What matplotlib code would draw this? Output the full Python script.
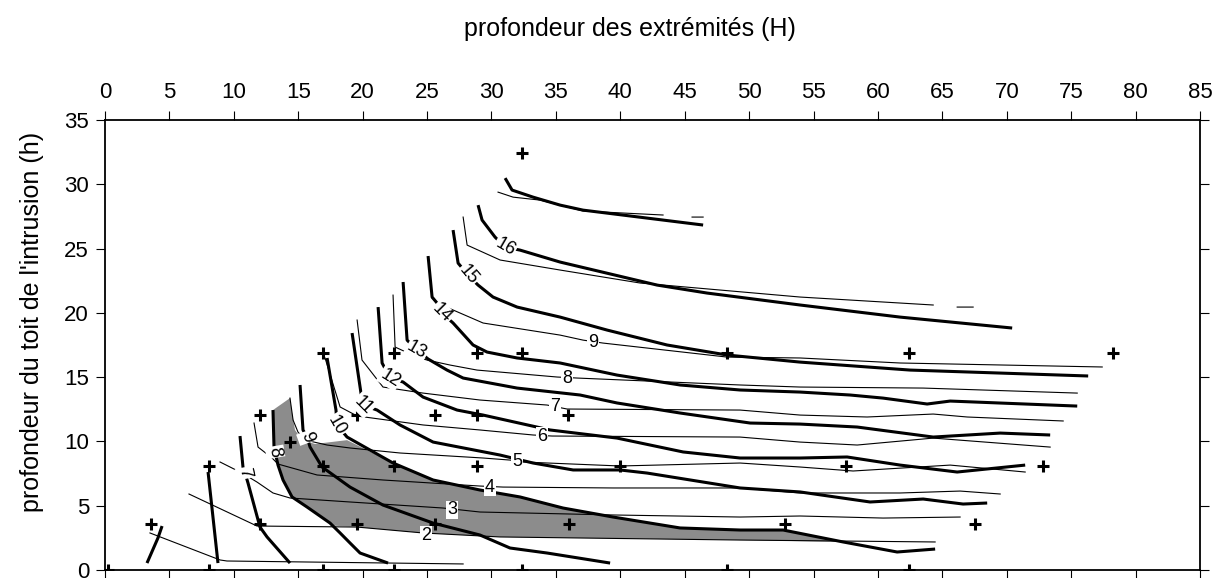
import numpy as np
import matplotlib
matplotlib.use('Agg')
import matplotlib.pyplot as plt

plt.rcParams['font.family'] = ['Liberation Sans', 'DejaVu Sans']

nan = np.nan

# sampled configurations (+): H = depth of the ends, h = depth of the roof
plus_H = [32.37,
          16.93, 22.44, 28.88, 32.37, 48.29, 62.42, 78.26,
          12.03, 19.57, 25.62, 28.88, 35.95,
          14.36,
          8.07, 16.93, 22.44, 28.88, 39.98, 57.53, 72.83,
          3.57, 12.03, 19.57, 25.62, 36.02, 52.8, 67.55,
          0.23, 8.07, 16.93, 22.44, 32.37, 48.29, 62.42]
plus_h = [32.43,
          16.87, 16.87, 16.87, 16.87, 16.87, 16.87, 16.87,
          12.05, 12.05, 12.05, 12.05, 12.05,
          9.95,
          8.09, 8.09, 8.09, 8.09, 8.09, 8.09, 8.09,
          3.58, 3.58, 3.58, 3.58, 3.58, 3.58, 3.58,
          0, 0, 0, 0, 0, 0, 0]

# thick isolines
thickA = [(3.26, 0.54), (4.11, 2.49), (4.43, 3.42)]
thickB = [(8.0, 7.62), (8.77, 0.54)]
thick7 = [(10.48, 10.42), (10.71, 8.01), (10.87, 7.54), (11.1, 6.77), (12.03, 3.34),
          (12.58, 2.57), (14.36, 0.54)]
thick8 = [(13.04, 12.44), (13.12, 9.56), (13.2, 9.18), (13.43, 8.16), (13.82, 7.0),
          (14.52, 5.68), (15.68, 4.9), (17.47, 3.65), (18.25, 2.88), (19.02, 2.1),
          (19.8, 1.32), (21.97, 0.54)]
thick9 = [(15.14, 14.39), (15.37, 10.89), (15.68, 10.34), (15.92, 9.56), (16.85, 8.01),
          (19.02, 6.45), (21.58, 5.05), (25.47, 3.65), (29.11, 2.72), (31.44, 1.71),
          (34.32, 1.32), (39.21, 0.54)]
thick10 = [(17.24, 16.49), (17.93, 12.44), (18.01, 11.28), (18.79, 10.34), (22.36, 8.32),
           (25.47, 7.0), (29.11, 6.22), (32.22, 5.68), (35.56, 4.82), (39.44, 4.12),
           (44.64, 3.27), (49.3, 3.11), (52.64, 3.11), (57.3, 2.18), (61.49, 1.4), (64.44, 1.63)]
thick11 = [(19.18, 18.43), (19.95, 13.22), (20.03, 12.83), (21.12, 12.44), (22.9, 11.28),
           (25.47, 9.95), (30.67, 8.94), (33.23, 8.32), (36.34, 7.78), (39.98, 7.78),
           (42.08, 7.54), (49.3, 6.38), (53.96, 6.07), (59.39, 5.29), (63.51, 5.52),
           (66.61, 5.13), (68.48, 5.21)]
thick12 = [(21.2, 20.45), (21.51, 16.1), (22.13, 14.93), (23.14, 14.62), (24.69, 13.45),
           (27.33, 12.44), (29.35, 12.05), (34.55, 10.89), (39.75, 10.26), (44.88, 9.18),
           (49.3, 8.71), (53.96, 8.71), (57.61, 8.79), (61.72, 8.16), (66.15, 7.62), (71.43, 8.16)]
thick13 = [(23.14, 22.4), (23.45, 17.88), (24.22, 17.11), (25.08, 16.41), (26.55, 15.55),
           (27.8, 14.93), (31.99, 14.15), (36.88, 13.61), (39.75, 12.99), (44.64, 12.21),
           (50.08, 11.43), (53.96, 11.35), (58.39, 11.12), (64.29, 10.34), (69.49, 10.65),
           (73.37, 10.5)]
thick14 = [(25.08, 24.42), (25.39, 21.23), (25.78, 20.76), (26.16, 19.98), (27.02, 19.21),
           (28.57, 17.5), (29.66, 16.95), (31.99, 16.49), (35.33, 16.1), (39.75, 15.16),
           (44.64, 14.39), (49.3, 14.0), (53.96, 13.84), (57.84, 13.61), (60.4, 13.37),
           (63.82, 12.91), (65.61, 13.14), (75.47, 12.75)]
thick15 = [(27.02, 26.44), (27.41, 23.87), (28.18, 22.94), (28.96, 22.16), (30.12, 21.23),
           (31.99, 20.45), (35.33, 19.67), (38.98, 18.66), (43.63, 17.5), (48.29, 16.72),
           (53.96, 16.17), (62.5, 15.55), (76.32, 15.09)]
thick16 = [(28.96, 28.38), (29.27, 27.22), (30.28, 25.89), (31.06, 25.12), (32.22, 24.88),
           (35.33, 23.95), (42.86, 22.16), (46.74, 21.54), (53.96, 20.61), (61.72, 19.67),
           (70.42, 18.82)]
thick17 = [(31.06, 30.48), (31.6, 29.55), (33.23, 29.0), (35.33, 28.38), (37.11, 27.99),
           (46.43, 26.83)]

# thin isolines
thin1 = [(3.49, 2.88), (8.93, 0.78), (9.47, 0.7), (27.8, 0.47)]
thin2 = [(6.52, 5.91), (11.8, 3.42), (19.57, 3.34), (24.69, 2.88), (30.67, 2.57),
         (36.88, 2.49), (49.3, 2.33), (56.52, 2.26), (64.44, 2.18)]
thin3 = [(8.93, 8.4), (10.64, 7.54), (11.8, 6.84), (13.04, 5.99), (14.36, 5.6), (19.02, 5.29),
         (26.24, 4.82), (29.11, 4.51), (39.44, 4.28), (49.3, 4.12), (53.96, 4.2), (60.4, 4.04),
         (66.38, 4.12)]
thin4 = [(11.57, 11.43), (11.88, 9.56), (12.97, 8.71), (13.43, 8.24), (16.46, 7.39), (21.58, 7.0),
         (29.11, 6.53), (30.9, 6.45), (39.44, 6.38), (49.3, 6.38), (53.96, 5.99), (61.72, 5.99),
         (66.38, 6.14), (69.49, 5.91)]
thin5 = [(14.36, 13.37), (14.6, 11.66), (14.98, 10.73), (15.53, 10.11), (17.24, 9.72),
         (19.02, 9.49), (22.9, 9.1), (29.35, 8.71), (31.44, 8.55), (32.45, 8.4), (39.98, 8.09),
         (49.3, 8.32), (53.96, 8.01), (58.07, 7.7), (65.61, 8.16), (71.43, 7.62)]
thin6 = [(17.08, 16.49), (18.25, 12.68), (19.57, 11.98), (24.69, 11.28), (29.11, 10.89),
         (33.23, 10.5), (34.7, 10.42), (49.3, 10.34), (53.96, 9.95), (58.39, 9.72),
         (64.29, 10.26), (73.37, 9.56)]
thin7 = [(19.57, 19.44), (19.95, 16.33), (21.58, 14.23), (24.69, 13.76), (29.11, 13.22),
         (34.32, 12.83), (35.87, 12.52), (49.3, 12.44), (53.96, 12.05), (59.16, 11.9),
         (64.29, 12.13), (66.93, 11.9), (74.38, 11.59)]
thin8 = [(22.36, 21.38), (22.52, 17.34), (24.22, 16.56), (25.0, 16.33), (26.79, 15.94),
         (28.88, 15.55), (35.09, 15.01), (36.65, 14.93), (49.3, 14.39), (53.96, 14.23),
         (63.51, 14.15), (75.47, 13.76)]
thin9 = [(25.39, 21.15), (25.78, 20.76), (29.35, 19.21), (35.33, 18.27), (37.11, 17.88),
         (38.66, 17.65), (48.29, 16.56), (53.96, 16.49), (61.72, 16.1), (77.41, 15.79)]
thin10 = [(27.8, 27.45), (28.11, 25.27), (30.67, 24.11), (35.33, 23.33), (41.54, 22.32),
          (53.96, 21.23), (64.29, 20.61), (nan, nan), (66.15, 20.45), (67.39, 20.45)]
thin11 = [(30.51, 29.39), (31.68, 29.0), (33.77, 28.77), (37.11, 27.92), (43.32, 27.61),
          (nan, nan), (45.57, 27.45), (46.43, 27.45)]

# shaded zone
zone = [(13.04, 12.44), (14.36, 13.37), (14.52, 12.21), (14.75, 10.89), (15.3, 10.11),
        (16.3, 9.8), (18.79, 10.1), (22.36, 8.32), (25.47, 7.0), (29.11, 6.22), (32.22, 5.68),
        (35.56, 4.82), (39.44, 4.12), (44.64, 3.27), (49.3, 3.11), (52.64, 3.11), (57.3, 2.18),
        (49.3, 2.33), (36.88, 2.49), (30.67, 2.57), (24.69, 2.88), (19.57, 3.34), (17.7, 3.45),
        (15.68, 4.9), (14.52, 5.68), (13.82, 7.0), (13.43, 8.16), (13.12, 9.56)]

# isoline labels: text, H, h, angle
thick_labels = [('7', 10.87, 7.54, -78), ('8', 13.2, 9.18, -80), ('9', 15.68, 10.34, -70),
                ('10', 18.01, 11.28, -60), ('11', 20.03, 12.83, -45), ('12', 22.13, 14.93, -32),
                ('13', 24.22, 17.11, -30), ('14', 26.16, 19.98, -45), ('15', 28.18, 22.94, -50),
                ('16', 31.06, 25.12, -30)]
thin_labels = [('2', 24.92, 2.72), ('3', 26.94, 4.67), ('4', 29.89, 6.45), ('5', 31.99, 8.4),
               ('6', 33.93, 10.42), ('7', 34.94, 12.68), ('8', 35.87, 14.93), ('9', 37.89, 17.73)]

fig = plt.figure(figsize=(12.21, 5.78), dpi=100)
ax = fig.add_axes([105 / 1221, 8 / 578, 1095 / 1221, 450 / 578])

zx, zy = zip(*zone)
ax.fill(zx, zy, color='#8c8c8c', lw=0, zorder=1)

for line in [thin1, thin2, thin3, thin4, thin5, thin6, thin7, thin8, thin9, thin10, thin11]:
    lx, ly = zip(*line)
    ax.plot(lx, ly, color='black', lw=0.8, zorder=2)

for line in [thickA, thickB, thick7, thick8, thick9, thick10, thick11, thick12,
             thick13, thick14, thick15, thick16, thick17]:
    lx, ly = zip(*line)
    ax.plot(lx, ly, color='black', lw=2.2, zorder=3, solid_capstyle='butt')

ax.plot(plus_H, plus_h, linestyle='none', marker='+', ms=9, mew=2.2, color='black', zorder=4)

for t, x, y, r in thick_labels:
    ax.text(x, y, t, fontsize=13, rotation=r, rotation_mode='anchor', ha='center', va='center',
            zorder=5, bbox=dict(fc='white', ec='none', pad=0.6))
for t, x, y in thin_labels:
    ax.text(x, y, t, fontsize=13, ha='center', va='center', zorder=5,
            bbox=dict(fc='white', ec='none', pad=0.6))

ax.set_xlim(0, 85)
ax.set_ylim(0, 35)
ax.set_xticks(np.arange(0, 86, 5))
ax.set_yticks(np.arange(0, 36, 5))
ax.tick_params(axis='x', direction='out', length=6.5, width=0.8, top=True, bottom=True,
               labeltop=True, labelbottom=False, labelsize=16, pad=6)
ax.tick_params(axis='y', direction='out', length=6.5, width=0.8, left=True, right=True,
               labelleft=True, labelright=False, labelsize=16, pad=5)
for s in ax.spines.values():
    s.set_linewidth(1.3)

fig.text(630 / 1221, 1 - 29 / 578, 'profondeur des extrémités (H)', fontsize=18,
         ha='center', va='center')
fig.text(32 / 1221, 1 - 322 / 578, "profondeur du toit de l'intrusion (h)", fontsize=18,
         rotation=90, ha='center', va='center')

fig.savefig('out.png', dpi=100)
